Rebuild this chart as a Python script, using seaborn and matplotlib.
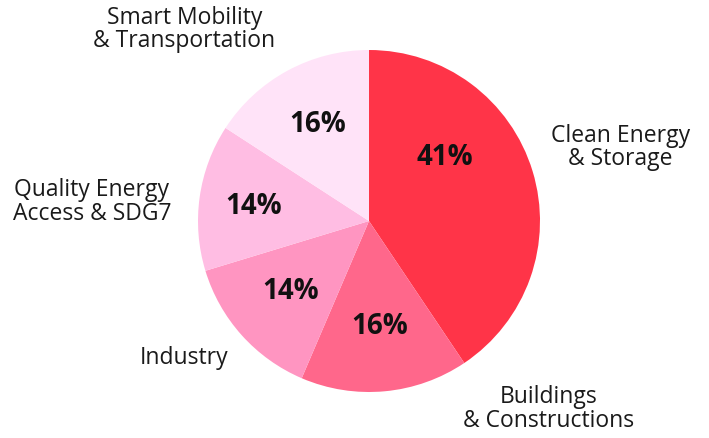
import matplotlib
matplotlib.use("Agg")
import matplotlib.pyplot as plt
import seaborn as sns
import numpy as np

categories = ["Clean Energy\n& Storage", "Buildings\n& Constructions", "Industry",
              "Quality Energy\nAccess & SDG7", "Smart Mobility\n& Transportation"]
values = [41, 16, 14, 14, 16]
pct_labels = ["41%", "16%", "14%", "14%", "16%"]
colors = ["#FF3448", "#FF678B", "#FF95C1", "#FFBDE3", "#FFE3F8"]

# label placement (angle in degrees, distance in pie radii)
pct_angle = [40, -84, -138, 173, 117.7]
pct_dist = [0.58, 0.62, 0.62, 0.68, 0.64]
cat_x = [1.47, 1.05, -1.08, -1.62, -1.08]
cat_y = [0.43, -1.10, -0.80, 0.11, 1.12]
cat_ha = ["center", "center", "center", "center", "center"]

sns.set_theme(style="white")
plt.rcParams['font.family'] = ['Open Sans', 'DejaVu Sans']

fig = plt.figure(figsize=(7.09, 4.38), dpi=100)
ax = fig.add_axes([0, 0, 1, 1])
ax.pie(values, colors=colors, startangle=90, counterclock=False, radius=1,
       wedgeprops=dict(linewidth=0))
for a, d, t in zip(pct_angle, pct_dist, pct_labels):
    r = np.deg2rad(a)
    ax.text(d * np.cos(r), d * np.sin(r), t, ha="center", va="center",
            fontsize=20, fontweight="bold", color="#111111")
for x, y, t, h in zip(cat_x, cat_y, categories, cat_ha):
    ax.text(x, y, t, ha=h, va="center", fontsize=16.5, color="#1a1a1a", linespacing=0.98)

R = 171.0
ax.set_xlim(-369 / R, (709 - 369) / R)
ax.set_ylim(-(438 - 221) / R, 221 / R)
ax.set_aspect("equal")
ax.axis("off")
fig.savefig("out.png", dpi=100)
